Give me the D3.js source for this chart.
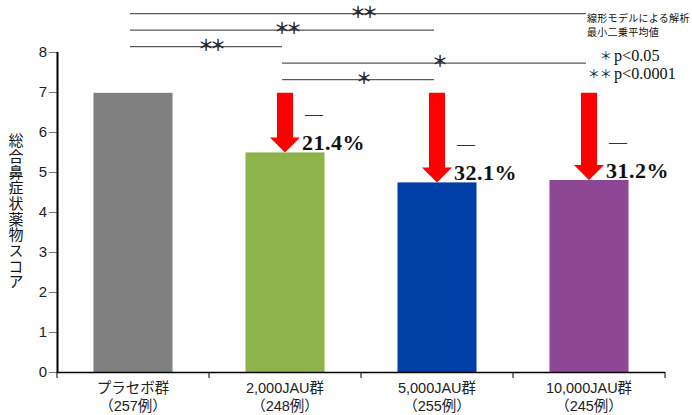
<!DOCTYPE html>
<html>
<head>
<meta charset="utf-8">
<script src="https://cdn.jsdelivr.net/npm/d3@7"></script>
<style>
  html, body { margin: 0; padding: 0; background: #fff; }
  svg { display: block; }
</style>
</head>
<body>
<svg id="chart" width="692" height="415"></svg>
<script>
// Groups and their case counts
const categories = ["プラセボ群", "2,000JAU群", "5,000JAU群", "10,000JAU群"];
const caseCounts = ["（257例）", "（248例）", "（255例）", "（245例）"];
// Least-squares mean of the total nasal symptom medication score
const scores = [6.98, 5.49, 4.74, 4.80];
const barColors = ["#808080", "#8fb34b", "#0040a6", "#8d4794"];
// Reduction versus placebo for each active group
const reductions = ["21.4%", "32.1%", "31.2%"];
const yTicks = [0, 1, 2, 3, 4, 5, 6, 7, 8];
// Pairwise comparisons (group indices) and their significance marks
const comparisons = [
  { from: 0, to: 3, mark: "＊＊" },
  { from: 0, to: 2, mark: "＊＊" },
  { from: 0, to: 1, mark: "＊＊" },
  { from: 1, to: 3, mark: "＊" },
  { from: 1, to: 2, mark: "＊" }
];
const noteLines = ["線形モデルによる解析", "最小二乗平均値"];
const sigKeyMarks = ["＊", "＊＊"];
const sigKeyTexts = ["p<0.05", "p<0.0001"];
const yTitle = "総合鼻症状薬物スコア";

const svg = d3.select("#chart");
const sans = "'Liberation Sans', Arial, 'Noto Sans CJK JP', sans-serif";
const cjk = "'Noto Sans CJK JP', sans-serif";
const serif = "'Liberation Serif', 'Times New Roman', serif";

const x = d3.scaleBand()
  .domain(categories)
  .range([57, 665])
  .paddingInner(0.48)
  .paddingOuter(0.24);

const y = d3.scaleLinear().domain([0, 8]).range([372, 52]);
const cx = i => x(categories[i]) + x.bandwidth() / 2;

// Bars
svg.append("g").selectAll("rect")
  .data(scores)
  .join("rect")
  .attr("x", (d, i) => x(categories[i]))
  .attr("y", d => y(d))
  .attr("width", x.bandwidth())
  .attr("height", d => y(0) - y(d))
  .attr("fill", (d, i) => barColors[i]);

// Y axis
const yAxis = svg.append("g")
  .attr("transform", "translate(57,0)")
  .call(d3.axisLeft(y).tickValues(yTicks).tickSize(8).tickPadding(2).tickFormat(d3.format("d")));
yAxis.select(".domain").remove();
yAxis.selectAll(".tick line").attr("stroke", "#7a7a7a").attr("stroke-width", 1);
yAxis.selectAll(".tick text")
  .attr("font-family", sans)
  .attr("font-size", 15)
  .attr("fill", "#222");
svg.append("line")
  .attr("x1", 57.5).attr("x2", 57.5)
  .attr("y1", y(8)).attr("y2", y(0))
  .attr("stroke", "#000").attr("stroke-width", 2);

// X axis with ticks between groups
const xAxisG = svg.append("g");
xAxisG.append("line")
  .attr("x1", 56.5).attr("x2", 665)
  .attr("y1", y(0) + 0.5).attr("y2", y(0) + 0.5)
  .attr("stroke", "#000").attr("stroke-width", 1.6);
const bounds = categories.map(c => x(c) - x.step() * x.paddingInner() / 2)
  .map((b, i) => i === 0 ? 57 : b).concat([665]);
xAxisG.selectAll(".sep")
  .data(bounds)
  .join("line")
  .attr("x1", d => d).attr("x2", d => d)
  .attr("y1", y(0)).attr("y2", y(0) + 6)
  .attr("stroke", "#000").attr("stroke-width", 1);

const catLabels = xAxisG.selectAll(".cat")
  .data(categories)
  .join("text")
  .attr("text-anchor", "middle")
  .attr("font-family", sans)
  .attr("font-size", 14.5)
  .attr("fill", "#222");
catLabels.append("tspan")
  .attr("x", (d, i) => cx(i)).attr("y", 393)
  .text(d => d);
catLabels.append("tspan")
  .attr("x", (d, i) => cx(i)).attr("y", 411)
  .text((d, i) => caseCounts[i]);

// Y axis title, written vertically
svg.append("text")
  .attr("x", 16)
  .attr("y", 133)
  .attr("font-family", cjk)
  .attr("font-size", 15)
  .attr("fill", "#111")
  .style("writing-mode", "vertical-rl")
  .style("text-orientation", "upright")
  .style("letter-spacing", "0.7px")
  .text(yTitle);

// Significance brackets
const sig = svg.append("g");
comparisons.forEach((c, k) => {
  const ly = 13.7 + 16.5 * k;
  const x1 = cx(c.from) - 3;
  const x2 = cx(c.to) - 3;
  sig.append("line")
    .attr("x1", x1).attr("x2", x2)
    .attr("y1", ly).attr("y2", ly)
    .attr("stroke", "#5a5a5a").attr("stroke-width", 1.3);
  sig.append("text")
    .attr("x", (x1 + x2) / 2 + 4)
    .attr("y", ly + 4)
    .attr("text-anchor", "middle")
    .attr("font-family", cjk)
    .attr("font-size", 16)
    .attr("font-weight", "bold")
    .attr("fill", "#2a2a2a")
    .style("letter-spacing", "-4px")
    .text(c.mark);
});

// Reduction arrows from the placebo level down to each active bar
const red = svg.append("g");
reductions.forEach((label, k) => {
  const i = k + 1;
  const c = cx(i);
  const top = y(scores[0]);
  const tip = y(scores[i]);
  const shaft = 8, head = 15, headLen = 15;
  const path = d3.path();
  path.moveTo(c - shaft, top);
  path.lineTo(c + shaft, top);
  path.lineTo(c + shaft, tip - headLen);
  path.lineTo(c + head, tip - headLen);
  path.lineTo(c, tip);
  path.lineTo(c - head, tip - headLen);
  path.lineTo(c - shaft, tip - headLen);
  path.closePath();
  red.append("path").attr("d", path.toString()).attr("fill", "#ff0000");

  red.append("text")
    .attr("x", c + 20)
    .attr("y", tip - 32)
    .attr("font-family", serif)
    .attr("font-size", 18)
    .attr("fill", "#333")
    .text("—");
  red.append("text")
    .attr("x", c + 17)
    .attr("y", tip - 2)
    .attr("font-family", serif)
    .attr("font-size", 22)
    .attr("font-weight", "bold")
    .attr("fill", "#111")
    .style("letter-spacing", "0.5px")
    .text(label);
});

// Analysis note and significance key
const note = svg.append("g");
note.append("text")
  .attr("font-family", cjk)
  .attr("font-size", 10)
  .attr("fill", "#111")
  .style("letter-spacing", "0.3px")
  .selectAll("tspan")
  .data(noteLines)
  .join("tspan")
  .attr("x", 587)
  .attr("y", (d, k) => 21.5 + 14.6 * k)
  .text(d => d);

note.append("text")
  .attr("text-anchor", "end")
  .attr("font-family", cjk)
  .attr("font-size", 12.2)
  .attr("fill", "#222")
  .selectAll("tspan")
  .data(sigKeyMarks)
  .join("tspan")
  .attr("x", 612)
  .attr("y", (d, k) => 61 + 18 * k)
  .text(d => d);

note.append("text")
  .attr("font-family", serif)
  .attr("font-size", 16.2)
  .attr("fill", "#111")
  .selectAll("tspan")
  .data(sigKeyTexts)
  .join("tspan")
  .attr("x", 614)
  .attr("y", (d, k) => 61 + 18 * k)
  .text(d => d);
</script>
</body>
</html>
